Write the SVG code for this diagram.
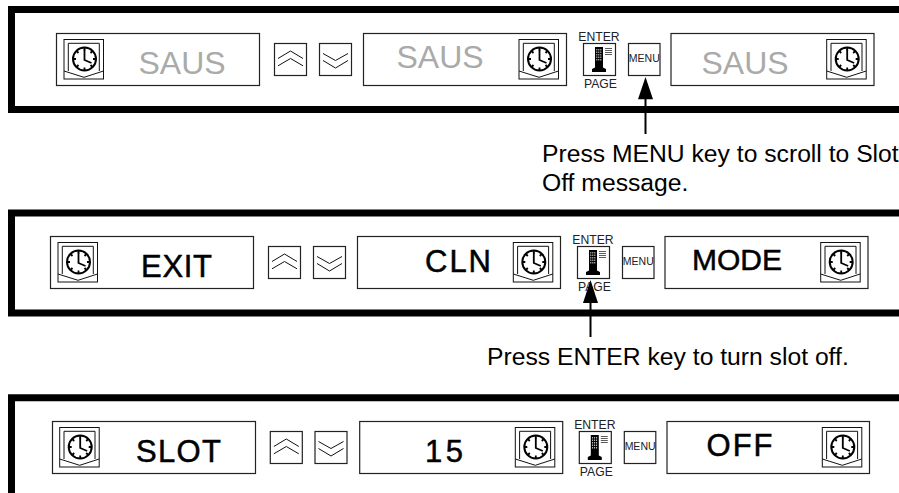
<svg xmlns="http://www.w3.org/2000/svg" width="899" height="493" viewBox="0 0 899 493">
<style>
text{font-family:"Liberation Sans",Arial,sans-serif;fill:#000}
.box{fill:#fff;stroke:#222;stroke-width:1.2}
.ln{fill:none;stroke:#111;stroke-width:1}
.frame{fill:none;stroke:#000;stroke-width:7}
.dim{font-size:32px;fill:#aaa}
.big{font-size:31px;stroke:#000;stroke-width:.5}
.mode{font-size:30px;stroke:#000;stroke-width:.5}
.cap{font-size:12.200px;text-anchor:middle;fill:#222}
.menu{font-size:10.500px;text-anchor:middle;fill:#222}
.note{font-size:24.700px}
.wire{stroke:#000;stroke-width:2}
</style>
<defs>
<g id="clock">
<rect class="ln" x="0" y="0" width="39.500" height="39.500"/>
<path class="ln" d="M4.300 31.500V3.800H35.300V31.500M0 31.500L20 37.800L39.500 31.500"/>
<circle cx="20.500" cy="19.500" r="11.500" fill="#fff" stroke="#000" stroke-width="2"/>
<path d="M20.500 8V11M20.500 28V31M9 19.500H12M29 19.500H32M12.500 11.500L14.500 13.500M28.500 11.500L26.500 13.500M12.500 27.500L14.500 25.500M28.500 27.500L26.500 25.500" stroke="#000" stroke-width="1.800"/>
<path d="M20.500 10V20.500L27.500 23.500" fill="none" stroke="#000" stroke-width="1.800"/>
</g>
<g id="up">
<rect class="box" x="0" y="0" width="32" height="32"/>
<path class="ln" d="M3.500 15L16 7.500L28.500 15M3.500 22.300L16 15L28.500 22.300"/>
</g>
<g id="down">
<rect class="box" x="0" y="0" width="32" height="32"/>
<path class="ln" d="M3.500 10L16 17L28.500 10M3.500 17L16 24.500L28.500 17"/>
</g>
<g id="enter">
<rect class="box" x="0" y="0" width="32" height="32"/>
<path d="M11.500 3.500H19.500V24L22.500 25.500V28.500H8.500V25.500L11.500 24Z" fill="#000"/>
<path d="M13.300 5.500V17M15.300 5.500V17M17.300 5.500V17" fill="none" stroke="#fff" stroke-width=".8" stroke-dasharray="1.500 1"/>
<path d="M21.500 5H28.500M21.500 7H28.500M21.500 9H28.500M21.500 11H28.500" stroke="#333" stroke-width=".8"/>
</g>
<g id="menu">
<rect class="box" x="0" y="0" width="31.500" height="32"/>
<text class="menu" x="15.800" y="18">MENU</text>
</g>
</defs>

<g id="panel-1">
<path class="frame" d="M899 9.500H11.500V109.500H899"/>
<g id="p1-display-1"><rect class="box" x="56.500" y="33.500" width="203" height="52"/><use href="#clock" x="64" y="39.500"/><text class="dim" x="138.500" y="74">SAUS</text></g>
<g id="p1-up"><use href="#up" x="274.500" y="43.500"/></g>
<g id="p1-down"><use href="#down" x="319.500" y="43.500"/></g>
<g id="p1-display-2"><rect class="box" x="363.500" y="33.500" width="203" height="52"/><use href="#clock" x="519" y="39.500"/><text class="dim" x="396.500" y="67.500">SAUS</text></g>
<g id="p1-enter"><use href="#enter" x="583.500" y="43.500"/><text class="cap" x="599" y="40.700">ENTER</text><text class="cap" x="600.500" y="87.700">PAGE</text></g>
<g id="p1-menu"><use href="#menu" x="628.500" y="43.500"/></g>
<g id="p1-display-3"><rect class="box" x="671" y="33.500" width="203" height="52"/><use href="#clock" x="826.700" y="39.500"/><text class="dim" x="701.500" y="74">SAUS</text></g>
</g>

<g id="panel-2">
<path class="frame" d="M899 213H11.500V313H899"/>
<g id="p2-display-1"><rect class="box" x="50.500" y="236.500" width="203" height="52"/><use href="#clock" x="58" y="242.500"/><text class="big" x="141" y="277" textLength="71">EXIT</text></g>
<g id="p2-up"><use href="#up" x="268.500" y="246.500"/></g>
<g id="p2-down"><use href="#down" x="313.500" y="246.500"/></g>
<g id="p2-display-2"><rect class="box" x="357.500" y="236.500" width="203" height="52"/><use href="#clock" x="513.300" y="242.500"/><text class="big" x="425" y="272" textLength="66">CLN</text></g>
<g id="p2-enter"><use href="#enter" x="577.500" y="246.500"/><text class="cap" x="593" y="243.700">ENTER</text><text class="cap" x="594.500" y="290.700">PAGE</text></g>
<g id="p2-menu"><use href="#menu" x="622.500" y="246.500"/></g>
<g id="p2-display-3"><rect class="box" x="665" y="236.500" width="203" height="52"/><use href="#clock" x="820.700" y="242.500"/><text class="mode" x="692" y="270">MODE</text></g>
</g>

<g id="panel-3">
<path class="frame" d="M899 397.700H11.500V493"/>
<g id="p3-display-1"><rect class="box" x="52.500" y="421.500" width="203" height="52"/><use href="#clock" x="59.700" y="427.500"/><text class="big" x="136" y="462" textLength="85">SLOT</text></g>
<g id="p3-up"><use href="#up" x="270.300" y="431.500"/></g>
<g id="p3-down"><use href="#down" x="315" y="431.500"/></g>
<g id="p3-display-2"><rect class="box" x="359.700" y="421.500" width="203" height="52"/><use href="#clock" x="515.300" y="427.500"/><text class="big" x="425" y="462" textLength="38">15</text></g>
<g id="p3-enter"><use href="#enter" x="579.300" y="431.500"/><text class="cap" x="594.800" y="428.700">ENTER</text><text class="cap" x="596.300" y="475.700">PAGE</text></g>
<g id="p3-menu"><use href="#menu" x="624.300" y="431.500"/></g>
<g id="p3-display-3"><rect class="box" x="667" y="421.500" width="202.500" height="52"/><use href="#clock" x="822.300" y="427.500"/><text class="big" x="706.500" y="456" textLength="66">OFF</text></g>
</g>

<g id="connectors">
<path class="wire" d="M645.500 98V134"/><path d="M645.500 77L653 99.300H638Z"/>
<path class="wire" d="M590.500 301V337"/><path d="M590.500 280L598 303H583Z"/>
</g>

<g id="notes">
<text class="note" x="542" y="162.300">Press MENU key to scroll to Slot</text>
<text class="note" x="542" y="191">Off message.</text>
<text class="note" x="487" y="365">Press ENTER key to turn slot off.</text>
</g>
</svg>
